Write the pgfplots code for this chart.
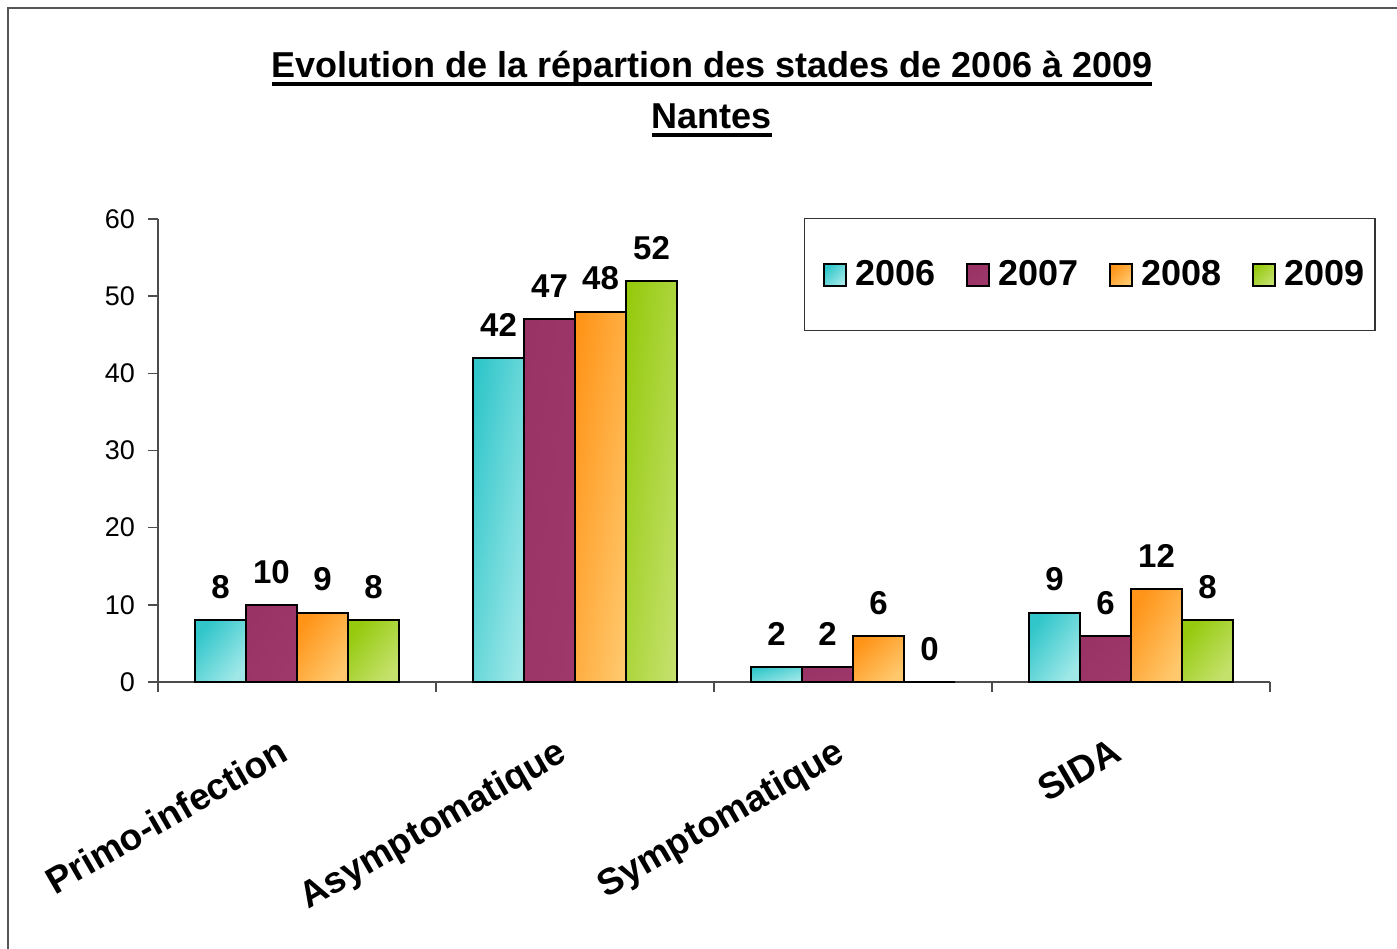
\documentclass[border=0pt]{standalone}
\usepackage{pgfplots}
\pgfplotsset{compat=1.18}
\usepackage{fontspec}
\setmainfont{Liberation Sans}
\definecolor{cA}{HTML}{30C6CA}
\definecolor{cAl}{HTML}{A0E8E8}
\definecolor{cB}{HTML}{993366}
\definecolor{cBl}{HTML}{9E386B}
\definecolor{cC}{HTML}{FF9418}
\definecolor{cCl}{HTML}{FFC86C}
\definecolor{cD}{HTML}{96CA0E}
\definecolor{cDl}{HTML}{C4E16C}
\definecolor{frame}{HTML}{555555}
\newcommand\ul[1]{\setbox0\hbox{#1}\rlap{\rule[-4pt]{\wd0}{2pt}}\box0}
\pgfplotsset{
  sA/.style={draw=black, line width=1pt, top color=cA, bottom color=cAl, shading angle=#1},
  sB/.style={draw=black, line width=1pt, top color=cB, bottom color=cBl, shading angle=#1},
  sC/.style={draw=black, line width=1pt, top color=cC, bottom color=cCl, shading angle=#1},
  sD/.style={draw=black, line width=1pt, top color=cD, bottom color=cDl, shading angle=#1},
}
\begin{document}
\begin{tikzpicture}
\useasboundingbox (0,0) rectangle (698.5pt,474pt);
\draw[line width=1pt, frame] (4pt,-20pt) |- (720pt,470pt);
\node[anchor=base, font=\bfseries\fontsize{18}{20}\selectfont] at (356pt,435pt) {\ul{Evolution de la répartion des stades de 2006 à 2009}};
\node[anchor=base, font=\bfseries\fontsize{18}{20}\selectfont] at (356pt,409.5pt) {\ul{Nantes}};
\begin{axis}[
  at={(79pt,133pt)}, anchor=south west,
  scale only axis, width=556pt, height=231.5pt,
  xmin=-0.5, xmax=3.5, ymin=0, ymax=60,
  enlargelimits=false, clip=false,
  axis x line*=bottom, axis y line*=left,
  axis line style={-, line width=0.7pt, black!70},
  ybar=0pt, bar width=25.5pt,
  xtick={0,1,2,3},
  xticklabels={Primo-infection, Asymptomatique, Symptomatique, SIDA},
  major x tick style={draw=none},
  minor xtick={-0.5,0.5,1.5,2.5,3.5},
  minor tick length=5pt,
  minor x tick style={line width=0.7pt, black!70},
  ytick={0,10,...,60},
  major tick length=5pt,
  y tick style={line width=0.7pt, black!70},
  tick align=outside,
  /pgf/number format/assume math mode=true,
  yticklabel style={font=\fontsize{13.5}{16}\selectfont, xshift=-3pt},
  xticklabel style={font=\bfseries\fontsize{18.5}{20}\selectfont, rotate=30, anchor=north east, inner sep=0pt, xshift=-19.5pt, yshift=-14pt},
  nodes near coords,
  nodes near coords style={font=\bfseries\fontsize{16.5}{18}\selectfont, text=black, anchor=center, yshift=16.5pt},
  legend columns=4,
  legend image code/.code={\draw[#1] (0pt,-5.5pt) rectangle (11pt,5.5pt);},
  legend style={at={(0.581,1.002)}, anchor=north west, draw=black!80, line width=0.6pt,
    font=\bfseries\fontsize{18}{20}\selectfont, inner xsep=9pt, inner ysep=19pt,
    nodes={inner xsep=0pt},
    /tikz/every odd column/.append style={column sep=4.5pt},
    /tikz/every even column/.append style={column sep=15pt},
    /tikz/column 8/.append style={column sep=0pt}},
]
\addlegendimage{sA=45}\addlegendentry{2006}
\addlegendimage{sB=45}\addlegendentry{2007}
\addlegendimage{sC=45}\addlegendentry{2008}
\addlegendimage{sD=45}\addlegendentry{2009\kern-4pt}
% 2006
\addplot[sA=50.4, bar shift=-38.25pt, forget plot] coordinates {(0,8)};
\addplot[sA=81.1, bar shift=-38.25pt, forget plot] coordinates {(1,42)};
\addplot[sA=16.8, bar shift=-38.25pt, forget plot] coordinates {(2,2)};
\addplot[sA=53.7, bar shift=-38.25pt, forget plot] coordinates {(3,9)};
% 2007
\addplot[sB=56.5, bar shift=-12.75pt, forget plot] coordinates {(0,10)};
\addplot[sB=82.0, bar shift=-12.75pt, forget plot] coordinates {(1,47)};
\addplot[sB=16.8, bar shift=-12.75pt, forget plot] coordinates {(2,2)};
\addplot[sB=42.2, bar shift=-12.75pt, forget plot] coordinates {(3,6)};
% 2008
\addplot[sC=53.7, bar shift=12.75pt, forget plot] coordinates {(0,9)};
\addplot[sC=82.2, bar shift=12.75pt, forget plot] coordinates {(1,48)};
\addplot[sC=42.2, bar shift=12.75pt, forget plot] coordinates {(2,6)};
\addplot[sC=61.2, bar shift=12.75pt, forget plot] coordinates {(3,12)};
% 2009
\addplot[sD=50.4, bar shift=38.25pt, forget plot] coordinates {(0,8)};
\addplot[sD=82.8, bar shift=38.25pt, forget plot] coordinates {(1,52)};
\addplot[sD=45, bar shift=38.25pt, forget plot] coordinates {(2,0)};
\addplot[sD=50.4, bar shift=38.25pt, forget plot] coordinates {(3,8)};
\end{axis}
\end{tikzpicture}
\end{document}
